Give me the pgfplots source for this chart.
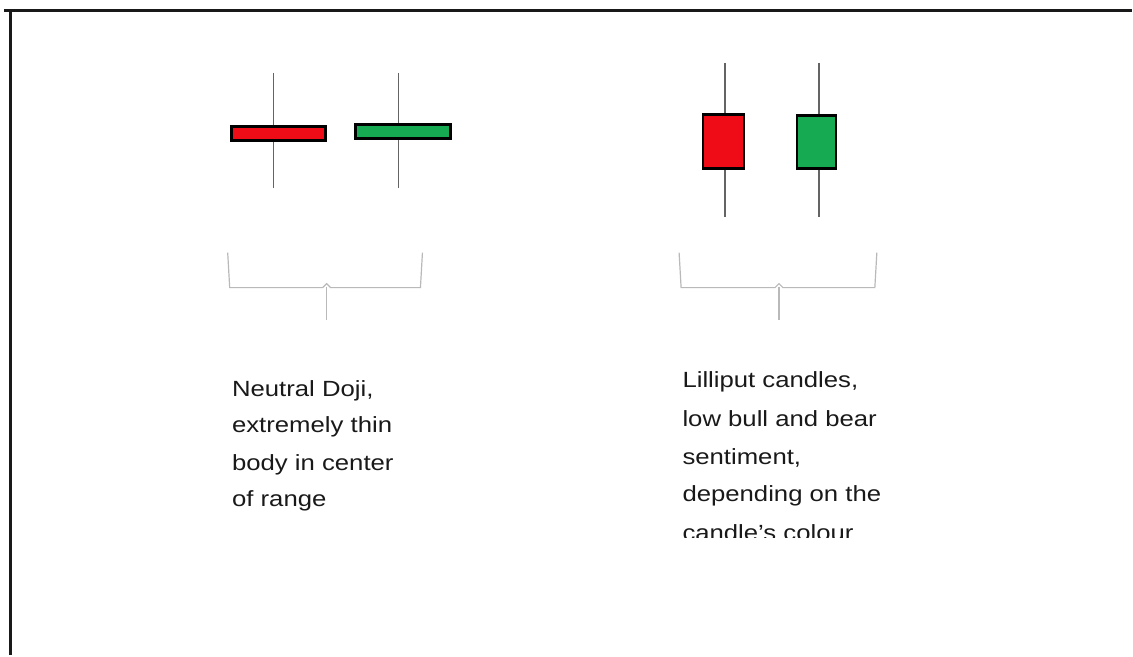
\documentclass[border=0pt]{standalone}
\usepackage{pgfplots}
\pgfplotsset{compat=1.18}
\usepackage{fontspec}
\setmainfont{Liberation Sans}
\newfontfamily\labfont[FakeStretch=1.17]{Liberation Sans}
\definecolor{bear}{RGB}{240,12,22}
\definecolor{bull}{RGB}{22,170,82}
\definecolor{wick}{RGB}{100,100,100}
\definecolor{brace}{RGB}{185,185,185}
\definecolor{txt}{RGB}{25,25,25}
\begin{document}
\begin{tikzpicture}
\begin{axis}[
    scale only axis, width=566.5pt, height=328pt,
    xmin=0, xmax=1133, ymin=0, ymax=656, y dir=reverse,
    hide axis, clip=false
]
\path (axis cs:0,0) rectangle (axis cs:1133,656);
% frame
\addplot[black!90, line width=1.5pt] coordinates {(4,10.5)(1133,10.5)};
\addplot[black!90, line width=1.5pt] coordinates {(10.5,10)(10.5,656)};
% doji candles
\addplot[wick, line width=0.7pt] coordinates {(274,73)(274,188)};
\addplot[wick, line width=0.7pt] coordinates {(399,73)(399,188)};
\addplot[fill=bear, draw=black, line width=1.4pt, line join=miter] coordinates {(232,127)(326,127)(326,141)(232,141)} -- cycle;
\addplot[fill=bull, draw=black, line width=1.4pt, line join=miter] coordinates {(356,125)(451,125)(451,139)(356,139)} -- cycle;
% lilliput candles
\addplot[wick, line width=0.7pt] coordinates {(726,63)(726,217)};
\addplot[wick, line width=0.7pt] coordinates {(820,63)(820,217)};
\addplot[fill=bear, draw=black, line width=1.4pt, line join=miter] coordinates {(704,115)(745,115)(745,169)(704,169)} -- cycle;
\addplot[fill=bull, draw=black, line width=1.4pt, line join=miter] coordinates {(798,116)(837,116)(837,169)(798,169)} -- cycle;
% braces
\addplot[brace, line width=0.6pt] coordinates {(228,253)(230,288)(323,288)(327,284)(331,288)(421,288)(423,253)};
\addplot[brace, line width=0.6pt] coordinates {(327,287)(327,320)};
\addplot[brace, line width=0.6pt] coordinates {(680,253)(682,288)(776,288)(780,284)(784,288)(876,288)(878,253)};
\addplot[brace, line width=0.6pt] coordinates {(780,287)(780,320)};
% captions
\node[anchor=base west, inner sep=0, text=txt, font=\labfont\fontsize{11}{12}\selectfont] at (axis cs:232,397) {Neutral Doji,};
\node[anchor=base west, inner sep=0, text=txt, font=\labfont\fontsize{11}{12}\selectfont] at (axis cs:232,433) {extremely thin};
\node[anchor=base west, inner sep=0, text=txt, font=\labfont\fontsize{11}{12}\selectfont] at (axis cs:232,471) {body in center};
\node[anchor=base west, inner sep=0, text=txt, font=\labfont\fontsize{11}{12}\selectfont] at (axis cs:232,507) {of range};
\node[anchor=base west, inner sep=0, text=txt, font=\labfont\fontsize{11}{12}\selectfont] at (axis cs:683,388) {Lilliput candles,};
\node[anchor=base west, inner sep=0, text=txt, font=\labfont\fontsize{11}{12}\selectfont] at (axis cs:683,427) {low bull and bear};
\node[anchor=base west, inner sep=0, text=txt, font=\labfont\fontsize{11}{12}\selectfont] at (axis cs:683,465) {sentiment,};
\node[anchor=base west, inner sep=0, text=txt, font=\labfont\fontsize{11}{12}\selectfont] at (axis cs:683,502) {depending on the};
\begin{scope}
\clip (axis cs:600,500) rectangle (axis cs:950,538);
\node[anchor=base west, inner sep=0, text=txt, font=\labfont\fontsize{11}{12}\selectfont] at (axis cs:683,541) {candle’s colour};
\end{scope}
\end{axis}
\end{tikzpicture}
\end{document}
